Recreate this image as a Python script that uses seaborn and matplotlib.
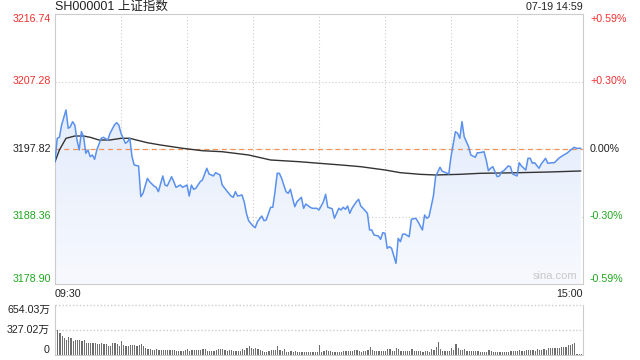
import numpy as np
import pandas as pd
import matplotlib
matplotlib.use("Agg")
import matplotlib.pyplot as plt
from matplotlib.colors import LinearSegmentedColormap
import seaborn as sns

# ---------------- data ----------------
prev_close = 3197.82
price_ticks = [3216.74, 3207.28, 3197.82, 3188.36, 3178.90]
pct_ticks = ["+0.59%", "+0.30%", "0.00%", "-0.30%", "-0.59%"]
vol_ticks = [654.03, 327.02, 0]
vol_tick_labels = ["654.03万", "327.02万", "0"]
title_text = "SH000001 上证指数"
time_text = "07-19 14:59"
time_labels = ["09:30", "15:00"]

price_min = [0, 1, 2, 3, 5, 6, 7, 8, 9, 10, 11, 12, 13, 14, 15, 16, 17, 18, 19, 21,
             22, 24, 25, 27, 28, 29, 30, 32, 33, 34, 35, 36, 38, 39, 40, 42, 43, 45, 46, 47,
             49, 50, 51, 53, 54, 55, 57, 58, 60, 61, 62, 63, 64, 66, 67, 69, 70, 72, 73, 75,
             76, 78, 80, 81, 82, 83, 85, 86, 87, 88, 90, 91, 92, 94, 95, 96, 98, 99, 100, 101,
             102, 103, 105, 106, 107, 108, 109, 110, 112, 113, 114, 116, 117, 119, 120, 122, 123, 124, 126, 127,
             129, 130, 131, 132, 133, 134, 135, 137, 138, 139, 140, 142, 143, 144, 145, 147, 148, 149, 150, 151,
             152, 153, 155, 156, 157, 158, 159, 161, 162, 164, 165, 167, 168, 169, 170, 172, 173, 175, 176, 178,
             179, 180, 182, 183, 184, 185, 186, 188, 189, 191, 192, 193, 195, 196, 197, 198, 199, 201, 202, 203,
             204, 206, 207, 208, 210, 211, 212, 214, 215, 216, 217, 218, 220, 221, 223, 224, 226, 227, 229, 230,
             232, 233, 234, 236, 237, 239]
price_val = [3196.04, 3199.32, 3199.46, 3201.18, 3203.29, 3200.72, 3200.95, 3201.65, 3201.18, 3199.08,
             3197.68, 3200.25, 3199.54, 3197.22, 3197.68, 3196.74, 3196.98, 3196.38, 3197.68, 3199.32,
             3199.46, 3199.08, 3200.02, 3201.18, 3201.51, 3201.18, 3200.02, 3198.62, 3198.84, 3199.32,
             3196.74, 3195.58, 3195.44, 3191.14, 3191.61, 3193.71, 3193.24, 3192.63, 3192.45, 3191.84,
             3194.04, 3192.77, 3192.63, 3193.94, 3193.24, 3192.45, 3192.77, 3192.45, 3192.77, 3191.23,
             3192.77, 3192.17, 3192.31, 3193.24, 3193.48, 3195.12, 3194.32, 3194.04, 3194.50, 3194.18,
             3192.77, 3191.98, 3191.23, 3191.05, 3191.84, 3191.23, 3191.37, 3190.43, 3188.81, 3187.77,
             3187.03, 3186.79, 3187.63, 3188.43, 3187.77, 3187.87, 3189.65, 3189.65, 3191.84, 3194.41,
             3194.41, 3193.71, 3191.84, 3191.61, 3192.17, 3190.91, 3189.73, 3190.43, 3191.05, 3189.51,
             3190.11, 3189.65, 3189.51, 3189.51, 3189.27, 3190.43, 3191.47, 3189.65, 3189.45, 3188.11,
             3189.51, 3189.27, 3189.65, 3189.37, 3189.83, 3188.81, 3189.51, 3190.43, 3190.77, 3189.83,
             3189.51, 3188.81, 3186.47, 3186.47, 3185.77, 3185.63, 3185.16, 3186.09, 3186.01, 3183.90,
             3184.13, 3183.90, 3181.80, 3185.30, 3184.83, 3185.87, 3185.91, 3185.53, 3187.97, 3188.11,
             3187.63, 3186.47, 3188.57, 3188.11, 3188.33, 3191.23, 3193.94, 3195.26, 3194.71, 3194.46,
             3194.32, 3196.74, 3200.25, 3200.02, 3199.32, 3201.65, 3199.54, 3198.14, 3196.98, 3196.66,
             3197.30, 3197.30, 3197.44, 3196.28, 3194.78, 3195.12, 3195.34, 3193.94, 3194.04, 3194.64,
             3194.78, 3195.44, 3195.34, 3194.32, 3194.04, 3195.90, 3195.44, 3194.88, 3196.52, 3196.52,
             3195.82, 3195.90, 3195.12, 3195.72, 3196.52, 3195.82, 3195.90, 3195.90, 3196.52, 3196.74,
             3197.12, 3197.30, 3197.58, 3198.06, 3197.92, 3197.92]

avg_min = [0, 2, 5, 9, 13, 16, 20, 25, 30, 34, 37, 42, 48, 58, 67, 76, 88, 98, 111, 120,
           130, 139, 150, 157, 166, 173, 184, 193, 211, 225, 239]
avg_val = [3196.04, 3197.68, 3199.32, 3199.64, 3199.64, 3199.46, 3199.08, 3199.08, 3199.32, 3199.32,
           3199.08, 3198.70, 3198.38, 3197.92, 3197.58, 3197.44, 3196.98, 3196.28, 3196.04, 3195.82,
           3195.58, 3195.34, 3194.88, 3194.50, 3194.27, 3194.18, 3194.27, 3194.41, 3194.50, 3194.60,
           3194.74]

volume = [654.03, 327, 283, 253, 222, 196, 240, 218, 179, 196,
          200, 200, 179, 200, 153, 153, 161, 161, 153, 144,
          144, 161, 140, 140, 122, 122, 157, 153, 144, 122,
          187, 135, 122, 113, 131, 135, 135, 113, 131, 140,
          113, 92, 83, 78, 65, 70, 78, 70, 70, 70,
          61, 61, 70, 70, 61, 57, 57, 57, 57, 70,
          75, 57, 66, 66, 62, 66, 66, 75, 79, 57,
          57, 57, 57, 66, 75, 75, 75, 66, 57, 66,
          66, 57, 57, 57, 57, 79, 70, 88, 123, 97,
          75, 88, 79, 66, 57, 44, 44, 57, 66, 66,
          66, 114, 62, 53, 75, 44, 35, 53, 44, 53,
          44, 40, 40, 40, 40, 40, 35, 40, 40, 40,
          136, 35, 48, 70, 48, 57, 44, 44, 44, 44,
          44, 57, 57, 57, 57, 57, 70, 70, 48, 35,
          48, 48, 66, 110, 66, 57, 57, 57, 57, 57,
          57, 79, 79, 57, 57, 97, 79, 57, 48, 57,
          48, 48, 79, 57, 48, 48, 48, 35, 57, 48,
          35, 79, 70, 110, 176, 79, 57, 57, 48, 48,
          97, 66, 145, 97, 70, 70, 79, 57, 57, 57,
          57, 48, 57, 44, 44, 44, 44, 70, 48, 44,
          44, 44, 44, 44, 44, 44, 44, 57, 57, 57,
          57, 70, 57, 57, 70, 70, 70, 70, 57, 79,
          70, 70, 79, 70, 97, 97, 88, 97, 88, 88,
          110, 110, 110, 136, 136, 145, 163, 13, 13, 13]
vol_min = list(range(len(volume)))

# ---------------- style ----------------
sns.set_style("white")
plt.rcParams["font.family"] = ["Liberation Sans", "Noto Sans CJK SC", "DejaVu Sans"]

RED = "#f23030"
GREEN = "#1fa81f"
GRID = "#cccccc"
LINE = "#5a90ee"

W, H = 640, 360
fig = plt.figure(figsize=(6.4, 3.6), dpi=100)
fig.patch.set_facecolor("white")

def fx(px):
    return px / W

def fy(py):
    return 1 - py / H

L, R = 55, 583
ax = fig.add_axes([fx(L), fy(284), fx(R) - fx(L), (284 - 14) / H])
axv = fig.add_axes([fx(L), fy(355), fx(R) - fx(L), (355 - 305) / H])

ymin, ymax = price_ticks[-1], price_ticks[0]

# gradient fill under the price line
poly = ax.fill_between(price_min, price_val, ymin, color="none", lw=0)
cmap = LinearSegmentedColormap.from_list("g", ["#f7f9fe", "#d9e5fa"])
grad = np.linspace(0, 1, 256).reshape(-1, 1)
im = ax.imshow(grad, extent=[0, 240, ymin, ymax], origin="lower", aspect="auto",
               cmap=cmap, zorder=1)
im.set_clip_path(poly.get_paths()[0], transform=ax.transData)

# grid lines
for m in range(30, 240, 30):
    ax.axvline(m, color=GRID, ls=(0, (1, 2)), lw=0.8, zorder=0.5)
for v in (price_ticks[1], price_ticks[3]):
    ax.axhline(v, color=GRID, ls=(0, (1, 2)), lw=0.8, zorder=0.5)
ax.axhline(prev_close, color=GRID, ls=(0, (1, 2)), lw=0.8, zorder=0.5)
ax.axhline(prev_close, color="#f0945a", ls=(0, (4, 3)), lw=0.9, zorder=2)

df_p = pd.DataFrame({"m": price_min, "p": price_val})
df_a = pd.DataFrame({"m": avg_min, "p": avg_val})
sns.lineplot(data=df_p, x="m", y="p", ax=ax, color=LINE, lw=1.1, zorder=4)
sns.lineplot(data=df_a, x="m", y="p", ax=ax, color="#333333", lw=1.0, zorder=3)

ax.set_xlim(0, 240)
ax.set_ylim(ymin, ymax)
ax.set_xticks([])
ax.set_yticks([])
ax.set_xlabel("")
ax.set_ylabel("")
for s in ax.spines.values():
    s.set_color(GRID)
    s.set_linewidth(0.8)

# price / percent labels
cols = [RED, RED, "#222222", GREEN, GREEN]
vas = ["top", "center", "center", "center", "bottom"]
for v, t, c, va in zip(price_ticks, pct_ticks, cols, vas):
    yy = (v - ymin) / (ymax - ymin)
    ax.text(-4 / (R - L), yy, f"{v:.2f}", transform=ax.transAxes, ha="right", va=va,
            color=c, fontsize=7.7)
    ax.text(1 + 7 / (R - L), yy, t, transform=ax.transAxes, ha="left", va=va,
            color=c, fontsize=7.7)

ax.text(0.99, 0.01, "sina.com", transform=ax.transAxes, ha="right", va="bottom",
        color="#c8c8c8", fontsize=8, zorder=5)

# volume panel
axv.bar(vol_min, volume, width=0.55, align="edge", color="#6e6e6e", lw=0)
axv.set_xlim(0, 240)
axv.set_ylim(0, vol_ticks[0])
axv.set_xticks([])
axv.set_yticks([])
axv.set_xlabel("")
axv.set_ylabel("")
for k in ("left", "right", "bottom"):
    axv.spines[k].set_color(GRID)
    axv.spines[k].set_linewidth(0.8)
axv.spines["top"].set_visible(False)
axv.axhline(vol_ticks[0], color=GRID, ls=(0, (1, 1.5)), lw=1.0, clip_on=False)
axv.axhline(vol_ticks[1], color=GRID, ls=(0, (1, 1.5)), lw=1.0)
for v, t, va in zip(vol_ticks, vol_tick_labels, ["top", "center", "bottom"]):
    axv.text(-5 / (R - L), v / vol_ticks[0], t, transform=axv.transAxes, ha="right",
             va=va, color="#222222", fontsize=7.7)

# header and time labels
fig.text(fx(L), fy(7), title_text, ha="left", va="center", fontsize=9, color="#222222")
fig.text(fx(R), fy(7), time_text, ha="right", va="center", fontsize=7.7, color="#222222")
fig.text(fx(L), fy(294), time_labels[0], ha="left", va="center", fontsize=7.7, color="#222222")
fig.text(fx(R), fy(294), time_labels[1], ha="right", va="center", fontsize=7.7, color="#222222")

fig.savefig("out.png", dpi=100, facecolor="white")
